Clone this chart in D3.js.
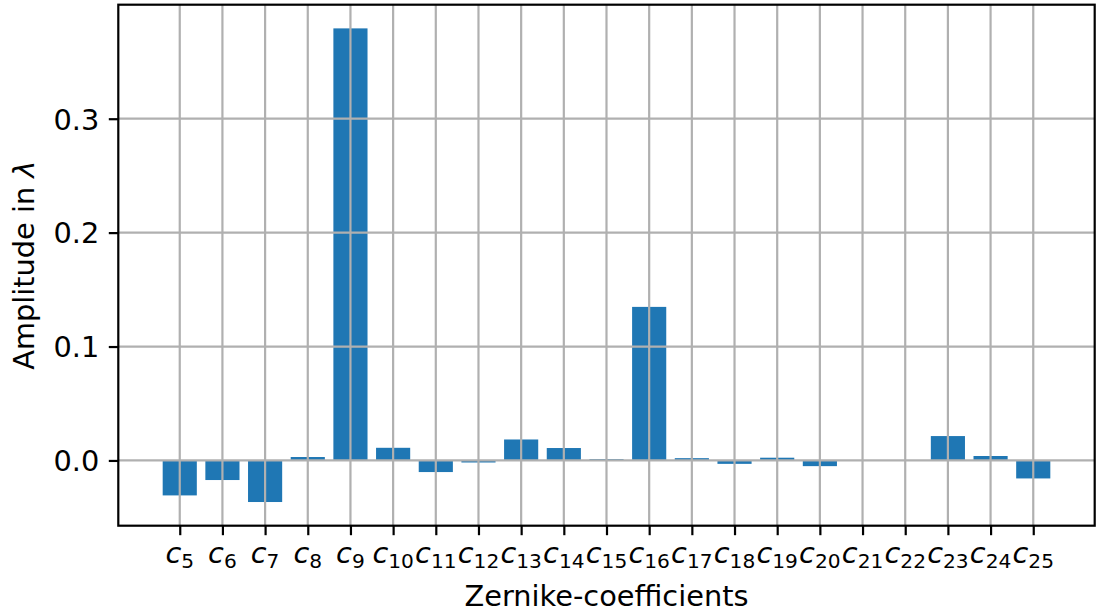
<!DOCTYPE html>
<html>
<head>
<meta charset="utf-8">
<script src="https://cdn.jsdelivr.net/npm/d3@7"></script>
<style>
  body { margin: 0; background: #fff; }
  svg { display: block; }
  text { font-family: "DejaVu Sans", sans-serif; fill: #000; }
</style>
</head>
<body>
<svg id="chart" width="1096" height="614"></svg>
<script>
// Zernike coefficient indices (c5 … c25) and their amplitudes in wavelengths
const coefficients = [5, 6, 7, 8, 9, 10, 11, 12, 13, 14, 15, 16, 17, 18, 19, 20, 21, 22, 23, 24, 25];
const amplitudes = [-0.0307, -0.0172, -0.0365, 0.0030, 0.3793, 0.0111, -0.0102, -0.0018, 0.0184, 0.0109,
                    0.0012, 0.1348, 0.0020, -0.0030, 0.0024, -0.0050, 0.0, 0.0, 0.0214, 0.0039, -0.0158];
const yTicks = [0.0, 0.1, 0.2, 0.3];
const xTitle = "Zernike-coefficients";
const yTitle = "Amplitude in ";
const yTitleSymbol = "λ";

const frame = { left: 118.3, right: 1094.7, top: 4.7, bottom: 525.7 };
const fontSize = 28.8;
const barWidth = 0.8;
const barColor = "#1f77b4";
const gridColor = "#b0b0b0";
const lineW = 2.2;
const tickLen = 9.5;
const tickPad = 9.6;

const svg = d3.select("#chart");

// x: bar extents plus 5% margins on each side
const xExt = [d3.min(coefficients) - barWidth / 2, d3.max(coefficients) + barWidth / 2];
const xPad = (xExt[1] - xExt[0]) * 0.05;
const x = d3.scaleLinear().domain([xExt[0] - xPad, xExt[1] + xPad]).range([frame.left, frame.right]);

// y: data range (including zero) plus 5% margins
const yExt = [Math.min(0, d3.min(amplitudes)), Math.max(0, d3.max(amplitudes))];
const yPad = (yExt[1] - yExt[0]) * 0.05;
const y = d3.scaleLinear().domain([yExt[0] - yPad, yExt[1] + yPad]).range([frame.bottom, frame.top]);

const data = coefficients.map((c, i) => ({ c, v: amplitudes[i] }));

// Bars
svg.append("g").selectAll("rect")
  .data(data.filter(d => d.v !== 0))
  .join("rect")
  .attr("x", d => x(d.c - barWidth / 2))
  .attr("width", d => x(d.c + barWidth / 2) - x(d.c - barWidth / 2))
  .attr("y", d => y(Math.max(0, d.v)))
  .attr("height", d => Math.abs(y(d.v) - y(0)))
  .attr("fill", barColor);

// Grid lines (drawn above the bars)
const grid = svg.append("g");
grid.selectAll("line.gx")
  .data(coefficients)
  .join("line")
  .attr("class", "gx")
  .attr("x1", d => x(d)).attr("x2", d => x(d))
  .attr("y1", frame.top).attr("y2", frame.bottom)
  .attr("stroke", gridColor).attr("stroke-width", lineW);
grid.selectAll("line.gy")
  .data(yTicks)
  .join("line")
  .attr("class", "gy")
  .attr("x1", frame.left).attr("x2", frame.right)
  .attr("y1", d => y(d)).attr("y2", d => y(d))
  .attr("stroke", gridColor).attr("stroke-width", lineW);

// Y axis ticks and labels
const yAxis = svg.append("g")
  .attr("transform", `translate(${frame.left},0)`)
  .call(d3.axisLeft(y).tickValues(yTicks).tickFormat(d3.format(".1f"))
    .tickSizeInner(tickLen).tickSizeOuter(0).tickPadding(tickPad));
yAxis.select(".domain").remove();
yAxis.selectAll(".tick line").attr("stroke", "#000").attr("stroke-width", lineW);
yAxis.selectAll(".tick text")
  .attr("font-size", fontSize)
  .attr("font-family", "DejaVu Sans")
  .attr("dy", "0.36em")
  .attr("fill", "#000");

// X axis ticks
const xAxis = svg.append("g")
  .attr("transform", `translate(0,${frame.bottom})`)
  .call(d3.axisBottom(x).tickValues(coefficients).tickFormat("")
    .tickSizeInner(tickLen).tickSizeOuter(0));
xAxis.select(".domain").remove();
xAxis.selectAll(".tick line").attr("stroke", "#000").attr("stroke-width", lineW);
xAxis.selectAll(".tick text").remove();

// X tick labels: italic c with subscript index
const xl = svg.append("g").selectAll("text")
  .data(coefficients)
  .join("text")
  .attr("x", d => x(d))
  .attr("y", 563)
  .attr("text-anchor", "middle")
  .attr("font-size", fontSize);
xl.append("tspan").attr("font-style", "italic").text("c");
xl.append("tspan").attr("font-size", fontSize * 0.7).attr("dy", 5).text(d => d);

// Frame (spines)
svg.append("rect")
  .attr("x", frame.left).attr("y", frame.top)
  .attr("width", frame.right - frame.left).attr("height", frame.bottom - frame.top)
  .attr("fill", "none").attr("stroke", "#000").attr("stroke-width", lineW);

// Axis titles
svg.append("text")
  .attr("x", (frame.left + frame.right) / 2)
  .attr("y", 606)
  .attr("text-anchor", "middle")
  .attr("font-size", fontSize)
  .text(xTitle);

const yt = svg.append("text")
  .attr("transform", `translate(34,${(frame.top + frame.bottom) / 2}) rotate(-90)`)
  .attr("text-anchor", "middle")
  .attr("font-size", fontSize);
yt.append("tspan").text(yTitle);
yt.append("tspan").attr("font-style", "italic").text(yTitleSymbol);
</script>
</body>
</html>
